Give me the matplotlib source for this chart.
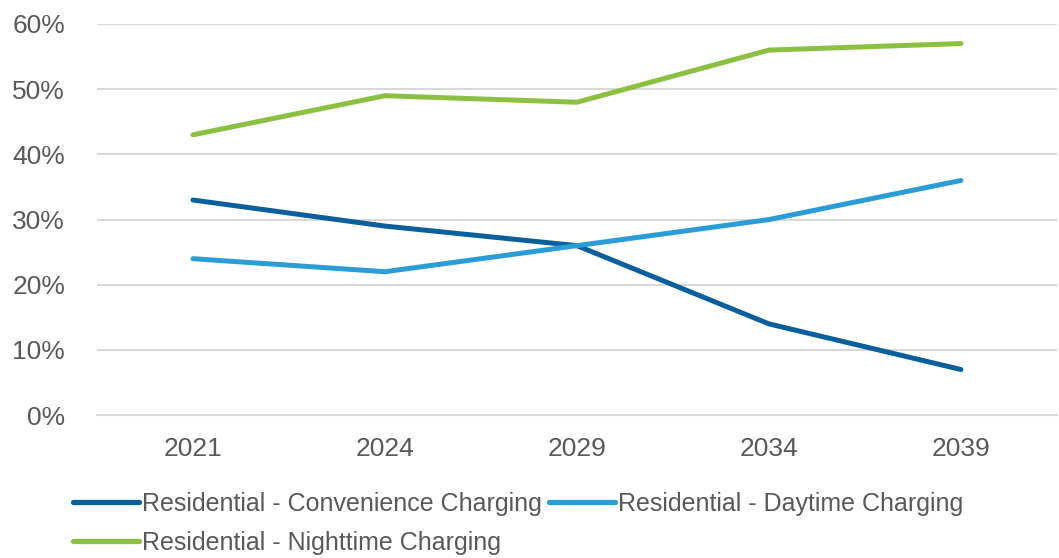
import matplotlib.pyplot as plt
from matplotlib.ticker import PercentFormatter

years = ["2021", "2024", "2029", "2034", "2039"]
convenience = [33, 29, 26, 14, 7]
daytime = [24, 22, 26, 30, 36]
nighttime = [43, 49, 48, 56, 57]

labels = [
    "Residential - Convenience Charging",
    "Residential - Daytime Charging",
    "Residential - Nighttime Charging",
]
colors = ["#0b5f9c", "#2b9cd6", "#8bc043"]
text_color = "#595959"


def main():
    plt.rcParams["font.family"] = ["Liberation Sans", "DejaVu Sans"]

    fig = plt.figure(figsize=(10.59, 5.58), dpi=100)
    ax = fig.add_axes([0.0916, 0.256, 0.9064, 0.701])

    x = range(len(years))
    lines = []
    for values, label, color in zip([convenience, daytime, nighttime], labels, colors):
        (ln,) = ax.plot(x, values, color=color, lw=3.6, label=label,
                        solid_capstyle="round", solid_joinstyle="round", zorder=3)
        lines.append(ln)

    ax.set_xlim(-0.5, len(years) - 0.5)
    ax.set_ylim(0, 60)
    ax.set_yticks(range(0, 61, 10))
    ax.yaxis.set_major_formatter(PercentFormatter(decimals=0))
    ax.set_xticks(list(x))
    ax.set_xticklabels(years)

    ax.grid(axis="y", color="#d9d9d9", lw=1.5, zorder=0)
    for side in ["top", "right", "left"]:
        ax.spines[side].set_visible(False)
    ax.spines["bottom"].set_color("#d9d9d9")
    ax.spines["bottom"].set_linewidth(1.5)
    ax.tick_params(axis="both", length=0, labelsize=19, colors=text_color)
    ax.tick_params(axis="y", pad=23)
    ax.tick_params(axis="x", pad=16)

    # order handles so the legend reads row by row
    order = [lines[0], lines[2], lines[1]]
    leg = fig.legend(order, [l.get_label() for l in order], ncol=2,
                     loc="upper left", bbox_to_anchor=(0.069, 0.119),
                     frameon=False, fontsize=18, handlelength=2.65,
                     handletextpad=0.1, columnspacing=0.3,
                     labelspacing=0.62, borderaxespad=0, borderpad=0)
    for t in leg.get_texts():
        t.set_color(text_color)
    for h in leg.get_lines():
        h.set_linewidth(3.8)

    fig.savefig("out.png", dpi=100)
    plt.close()


if __name__ == "__main__":
    main()
